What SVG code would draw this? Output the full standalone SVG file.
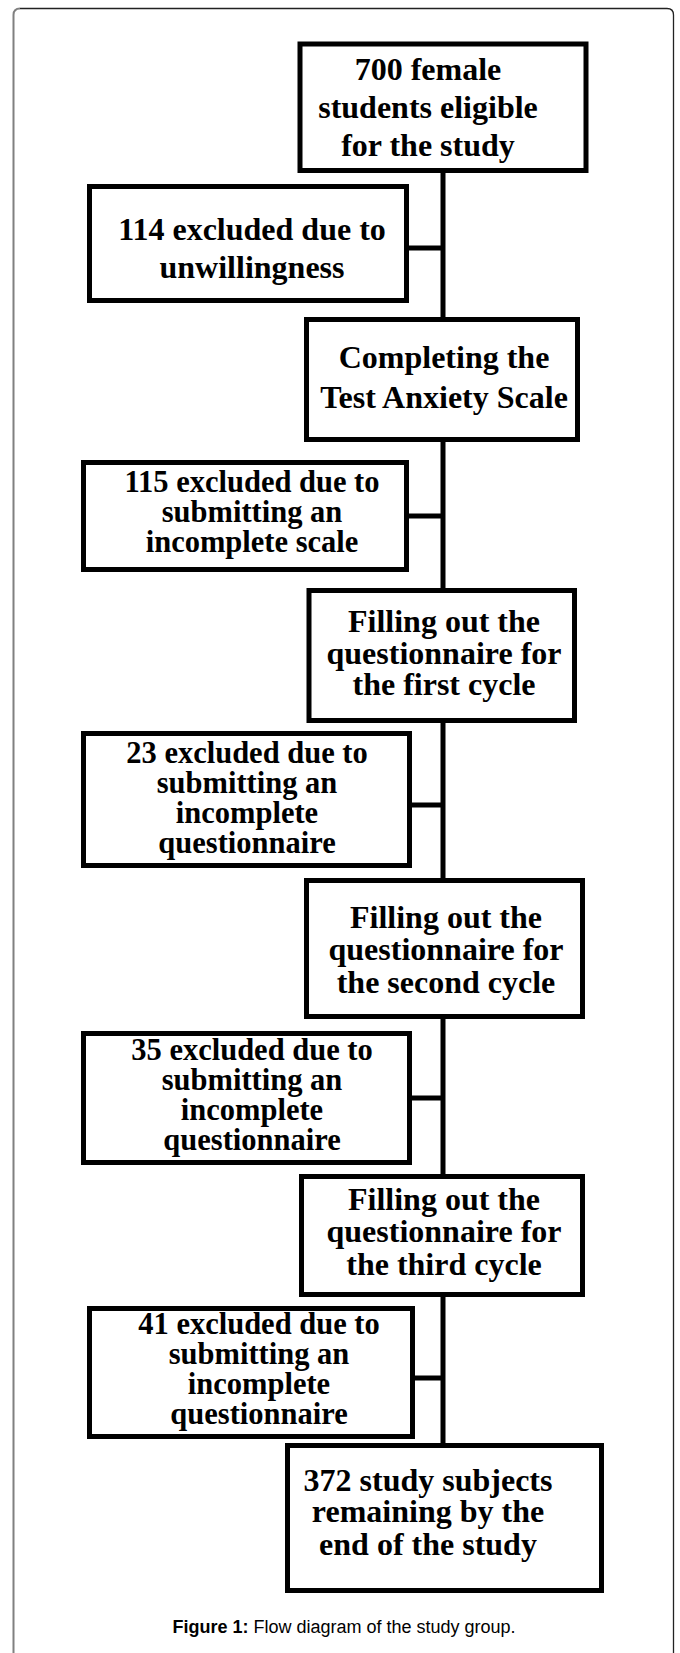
<svg xmlns="http://www.w3.org/2000/svg" width="680" height="1653" viewBox="0 0 680 1653">
<style>
.box{fill:#fff;stroke:#000;stroke-width:5}
.lbl{font-family:"Liberation Serif","Times New Roman",serif;font-weight:bold;font-size:32px;fill:#000;text-anchor:middle}
.sm{font-size:30.5px}
.con{stroke:#000;stroke-width:5;fill:none}
.cap{font-family:"Liberation Sans",Arial,sans-serif;font-size:18px;fill:#000;text-anchor:middle}
</style>
<rect width="680" height="1653" fill="#fff"/>
<path d="M13.5,1653 V15 Q13.5,8.5 20,8.5" fill="none" stroke="#808080" stroke-width="2"/>
<path d="M20,8.5 H667 Q673.5,8.5 673.5,15 V1653" fill="none" stroke="#222" stroke-width="1.3"/>
<g id="connectors">
<path class="con" d="M443,170.5 V319.5 M443,439.5 V590.5 M443,720.5 V880.5 M443,1016.5 V1176.5 M443,1294.5 V1445.5"/>
<path class="con" d="M406.5,248 H443 M406.5,516 H443 M409.5,805 H443 M409.5,1098 H443 M412.5,1378 H443"/>
</g>
<g id="n1"><rect class="box" x="300" y="44" width="286" height="126.5"/>
<text class="lbl" x="428" y="80">700 female</text><text class="lbl" x="428" y="118">students eligible</text><text class="lbl" x="428" y="156">for the study</text></g>
<g id="n2"><rect class="box" x="89.5" y="186.5" width="317" height="114"/>
<text class="lbl" x="252" y="240">114 excluded due to</text><text class="lbl" x="252" y="278">unwillingness</text></g>
<g id="n3"><rect class="box" x="306.5" y="319.5" width="271" height="120"/>
<text class="lbl" x="444" y="368">Completing the</text><text class="lbl" x="444" y="408">Test Anxiety Scale</text></g>
<g id="n4"><rect class="box" x="83.5" y="462.5" width="323" height="107"/>
<text class="lbl sm" x="252" y="492">115 excluded due to</text><text class="lbl sm" x="252" y="522">submitting an</text><text class="lbl sm" x="252" y="552">incomplete scale</text></g>
<g id="n5"><rect class="box" x="309" y="590.5" width="265.5" height="130"/>
<text class="lbl" x="444" y="632">Filling out the</text><text class="lbl" x="444" y="664">questionnaire for</text><text class="lbl" x="444" y="695">the first cycle</text></g>
<g id="n6"><rect class="box" x="83.5" y="733.5" width="326" height="132"/>
<text class="lbl sm" x="247" y="763">23 excluded due to</text><text class="lbl sm" x="247" y="793">submitting an</text><text class="lbl sm" x="247" y="823">incomplete</text><text class="lbl sm" x="247" y="853">questionnaire</text></g>
<g id="n7"><rect class="box" x="306.5" y="880.5" width="276" height="136"/>
<text class="lbl" x="446" y="928">Filling out the</text><text class="lbl" x="446" y="960">questionnaire for</text><text class="lbl" x="446" y="993">the second cycle</text></g>
<g id="n8"><rect class="box" x="83.5" y="1033.5" width="326" height="129"/>
<text class="lbl sm" x="252" y="1060">35 excluded due to</text><text class="lbl sm" x="252" y="1090">submitting an</text><text class="lbl sm" x="252" y="1120">incomplete</text><text class="lbl sm" x="252" y="1150">questionnaire</text></g>
<g id="n9"><rect class="box" x="301.5" y="1176.5" width="281" height="118"/>
<text class="lbl" x="444" y="1210">Filling out the</text><text class="lbl" x="444" y="1242">questionnaire for</text><text class="lbl" x="444" y="1275">the third cycle</text></g>
<g id="n10"><rect class="box" x="89.5" y="1308.5" width="323" height="128"/>
<text class="lbl sm" x="259" y="1334">41 excluded due to</text><text class="lbl sm" x="259" y="1364">submitting an</text><text class="lbl sm" x="259" y="1394">incomplete</text><text class="lbl sm" x="259" y="1424">questionnaire</text></g>
<g id="n11"><rect class="box" x="287.5" y="1445.5" width="314" height="145"/>
<text class="lbl" x="428" y="1491">372 study subjects</text><text class="lbl" x="428" y="1522">remaining by the</text><text class="lbl" x="428" y="1555">end of the study</text></g>
<g id="caption"><text class="cap" x="344" y="1633"><tspan font-weight="bold">Figure 1:</tspan> Flow diagram of the study group.</text></g>
</svg>
